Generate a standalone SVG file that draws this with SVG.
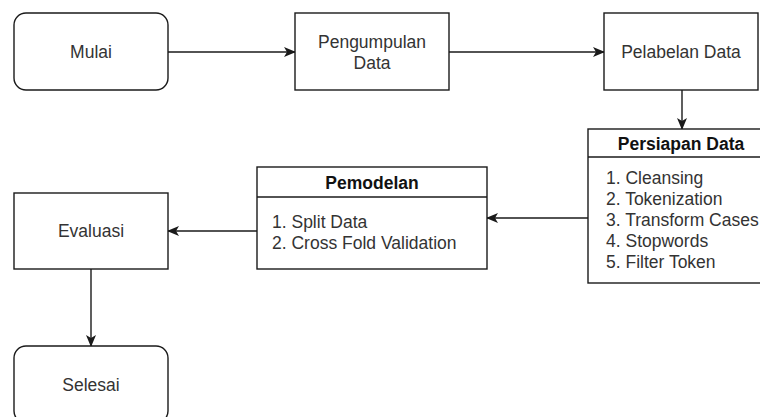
<svg xmlns="http://www.w3.org/2000/svg" width="760" height="417" viewBox="0 0 760 417">
  <defs>
    <marker id="arrow" viewBox="0 0 12 10" refX="11" refY="5" markerWidth="12" markerHeight="10" markerUnits="userSpaceOnUse" orient="auto">
      <path d="M0,0 L12,5 L0,10 L3,5 Z" fill="#1a1a1a"/>
    </marker>
    <style>
      .box { fill: #ffffff; stroke: #1a1a1a; stroke-width: 1.4; }
      .edge { fill: none; stroke: #1a1a1a; stroke-width: 1.4; marker-end: url(#arrow); }
      .lbl { font-family: "Liberation Sans", Arial, sans-serif; font-size: 17.5px; fill: #333333; }
      .mid { text-anchor: middle; }
      .ttl { font-weight: bold; fill: #111111; }
    </style>
  </defs>
  <rect width="760" height="417" fill="#ffffff"/>

  <g id="connectors">
    <path class="edge" d="M168,52 H295"/>
    <path class="edge" d="M449,52 H604"/>
    <path class="edge" d="M682,90 V129"/>
    <path class="edge" d="M588,218 H487"/>
    <path class="edge" d="M257,231 H168"/>
    <path class="edge" d="M91,269 V346"/>
  </g>

  <g id="mulai">
    <rect class="box" x="14" y="13" width="154" height="77" rx="12" ry="12"/>
    <text class="lbl mid" x="91" y="58">Mulai</text>
  </g>

  <g id="pengumpulan-data">
    <rect class="box" x="295" y="13" width="154" height="77"/>
    <text class="lbl mid" x="372" y="47.5">Pengumpulan</text>
    <text class="lbl mid" x="372" y="68.5">Data</text>
  </g>

  <g id="pelabelan-data">
    <rect class="box" x="604" y="13" width="154" height="77"/>
    <text class="lbl mid" x="681" y="58">Pelabelan Data</text>
  </g>

  <g id="persiapan-data">
    <rect class="box" x="588" y="129" width="188" height="154"/>
    <line class="box" x1="588" y1="157" x2="776" y2="157"/>
    <text class="lbl mid ttl" x="681" y="150">Persiapan Data</text>
    <text class="lbl" x="606" y="183.5">1. Cleansing</text>
    <text class="lbl" x="606" y="204.5">2. Tokenization</text>
    <text class="lbl" x="606" y="225.5">3. Transform Cases</text>
    <text class="lbl" x="606" y="246.5">4. Stopwords</text>
    <text class="lbl" x="606" y="267.5">5. Filter Token</text>
  </g>

  <g id="pemodelan">
    <rect class="box" x="257" y="167" width="230" height="102"/>
    <line class="box" x1="257" y1="197" x2="487" y2="197"/>
    <text class="lbl mid ttl" x="372" y="189">Pemodelan</text>
    <text class="lbl" x="272" y="227.5">1. Split Data</text>
    <text class="lbl" x="272" y="248.5">2. Cross Fold Validation</text>
  </g>

  <g id="evaluasi">
    <rect class="box" x="14" y="193" width="154" height="76"/>
    <text class="lbl mid" x="91" y="237">Evaluasi</text>
  </g>

  <g id="selesai">
    <rect class="box" x="14" y="346" width="154" height="77" rx="12" ry="12"/>
    <text class="lbl mid" x="91" y="391">Selesai</text>
  </g>
</svg>
